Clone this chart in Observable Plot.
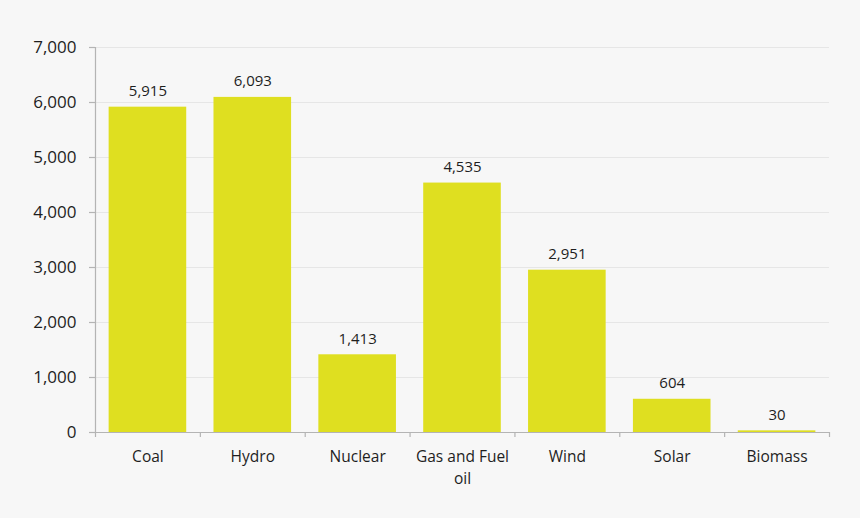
<!DOCTYPE html>
<html>
<head>
<meta charset="utf-8">
<script src="https://cdn.jsdelivr.net/npm/d3@7"></script>
<script src="https://cdn.jsdelivr.net/npm/@observablehq/plot@0.6"></script>
<style>
  html, body { margin: 0; padding: 0; background: #f7f7f7; }
  #chart { width: 860px; height: 518px; }
  svg { font-family: "Open Sans", sans-serif; }
</style>
</head>
<body>
<div id="chart"></div>
<script>
const categories = ["Coal", "Hydro", "Nuclear", "Gas and Fuel oil", "Wind", "Solar", "Biomass"];
const categoryLines = [["Coal"], ["Hydro"], ["Nuclear"], ["Gas and Fuel", "oil"], ["Wind"], ["Solar"], ["Biomass"]];
const values = [5915, 6093, 1413, 4535, 2951, 604, 30];
const yTicks = [0, 1000, 2000, 3000, 4000, 5000, 6000, 7000];

const data = categories.map((c, i) => ({category: c, i, value: values[i], label: categoryLines[i].join("\n")}));
const boundaries = d3.range(categories.length + 1);
const fmt = d3.format(",");

const chart = Plot.plot({
  width: 860,
  height: 518,
  marginLeft: 95,
  marginRight: 31,
  marginTop: 47,
  marginBottom: 86,
  style: {background: "#f7f7f7", color: "#1e1e1e", fontFamily: "'Open Sans', sans-serif"},
  x: {type: "linear", domain: [0, categories.length], axis: null},
  y: {type: "linear", domain: [0, 7000], axis: null},
  marks: [
    Plot.ruleY(yTicks.slice(1), {y: d => d, stroke: "#e6e6e6", strokeWidth: 1}),
    Plot.rectY(data, {x1: d => d.i + 0.13, x2: d => d.i + 0.87, y1: 0, y2: "value", fill: "#dfdf20"}),
    Plot.ruleY([0], {stroke: "#b4b4b4", strokeWidth: 1.2}),
    Plot.ruleX([0], {stroke: "#b4b4b4", strokeWidth: 1.2}),
    Plot.ruleX(boundaries, {x: d => d, y1: 0, y2: 0, insetBottom: -5, stroke: "#b4b4b4", strokeWidth: 1.2}),
    Plot.ruleY(yTicks, {y: d => d, x1: 0, x2: 0, insetLeft: -6, stroke: "#b4b4b4", strokeWidth: 1.2}),
    Plot.text(yTicks, {x: 0, y: d => d, text: d => fmt(d), textAnchor: "end", dx: -19, fontSize: 17, fill: "#1e1e1e"}),
    Plot.text(data, {x: d => d.i + 0.5, y: "value", text: d => fmt(d.value), dy: -16, fontSize: 15, fill: "#1e1e1e"}),
    Plot.text(data, {x: d => d.i + 0.5, y: 0, text: "label", dy: 13, lineAnchor: "top", lineHeight: 1.47, fontSize: 15.5, fill: "#1e1e1e"})
  ]
});

document.getElementById("chart").appendChild(chart);
</script>
</body>
</html>
